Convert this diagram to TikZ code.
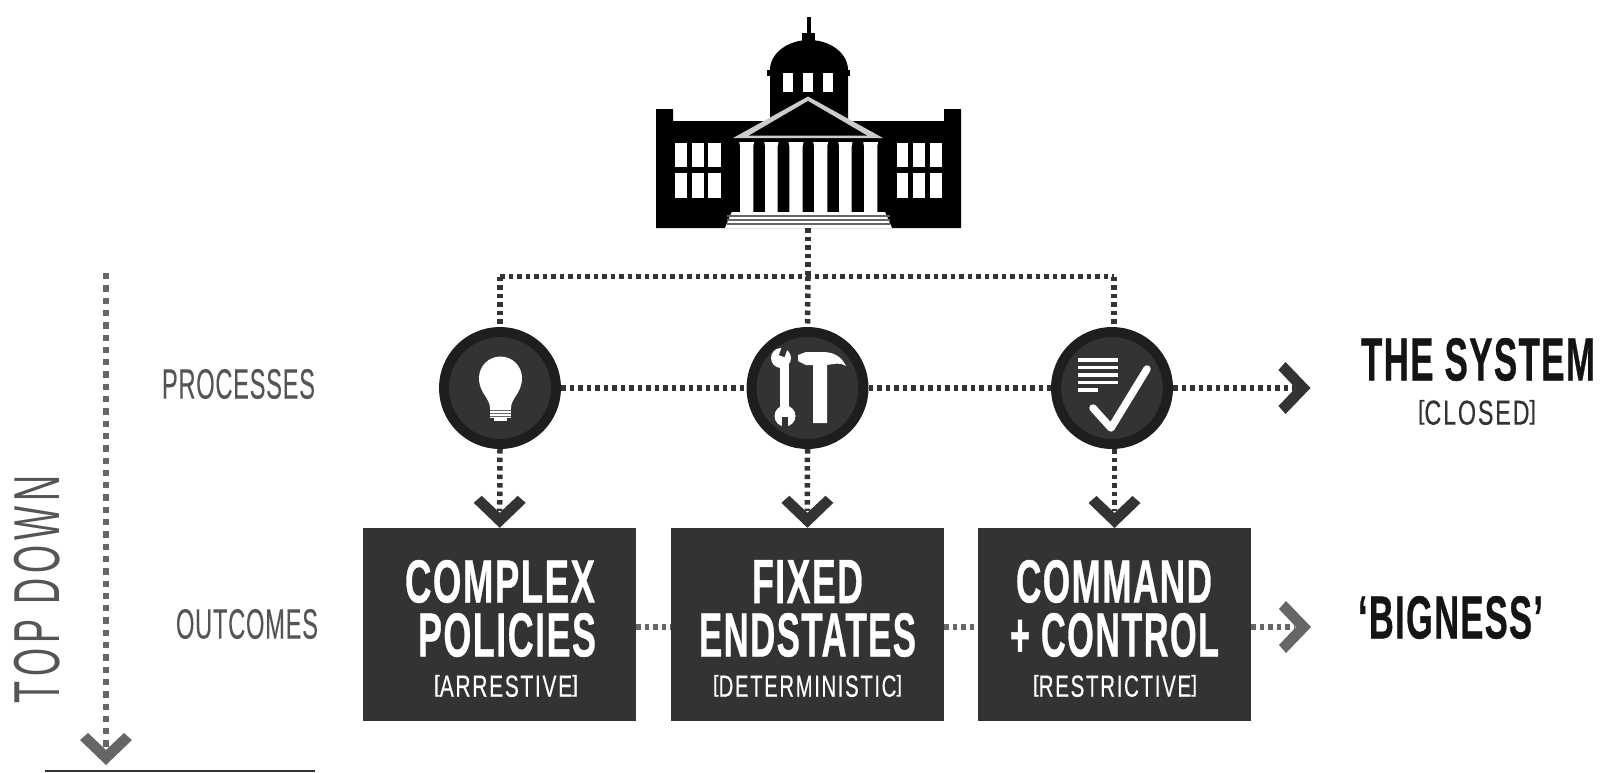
\documentclass[tikz,border=0pt]{standalone}
\usepackage{fontspec}
\usepackage{graphicx}
\setmainfont{Liberation Sans}
\newfontfamily\headfont[FakeBold=0.8,LetterSpace=4]{Liberation Sans Bold}
\newfontfamily\subfont[FakeBold=0.3,LetterSpace=8]{Liberation Sans}
\newfontfamily\labfont[FakeBold=0.15,LetterSpace=3]{Liberation Sans}
\newfontfamily\widefont[LetterSpace=14]{Liberation Sans}
\definecolor{panel}{HTML}{333333}
\definecolor{ring}{HTML}{1E1E1E}
\definecolor{ink}{HTML}{141414}
\definecolor{lab}{HTML}{555555}
\definecolor{midg}{HTML}{666666}
\newcommand{\fitH}[3]{\resizebox*{#1pt}{#2pt}{\headfont #3}}
\newcommand{\fitS}[3]{\resizebox*{#1pt}{#2pt}{\subfont #3}}
\newcommand{\fitL}[3]{\resizebox*{#1pt}{#2pt}{\labfont #3}}
\newcommand{\fitW}[3]{\resizebox*{#1pt}{#2pt}{\widefont #3}}
\newcommand{\lbk}{\raisebox{.16em}{\scalebox{1}[.76]{[}}}
\newcommand{\rbk}{\raisebox{.16em}{\scalebox{1}[.76]{]}}}
\newcommand{\chevron}[3]{\fill[#3,shift={(#1)},rotate=#2] (0,0)--(-26,-25)--(-18,-32)--(0,-15)--(18,-32)--(26,-25)--cycle;}
\tikzset{
  x=1pt,y=-1pt,
  dotsdark/.style={draw=panel,line width=5.5pt,dash pattern=on 4.5pt off 4pt},
  dotsgrey/.style={draw=midg,line width=5.5pt,dash pattern=on 4.5pt off 4pt},
  dotsleft/.style={draw=midg,line width=6.5pt,dash pattern=on 6.3pt off 6pt},
  disc/.style={circle,draw=ring,fill=panel,line width=10pt,minimum size=112pt,inner sep=0pt},
  panelbox/.style={rectangle,fill=panel,minimum width=273pt,minimum height=193pt,inner sep=0pt},
  txt/.style={inner sep=0pt,outer sep=0pt},
}
\begin{document}
\begin{tikzpicture}
\useasboundingbox (0,0) rectangle (1604,772);
\fill[white] (0,0) rectangle (1604,772);
%--- building
\fill[black] (656,228) -- (656,109) -- (673,109) -- (673,121) -- (944,121) -- (944,109) -- (961,109) -- (961,228) -- cycle;
\fill[black] (770,125) -- (770,70) arc[start angle=180,end angle=0,x radius=39,y radius=-30] -- (848,125) -- cycle;
\fill[black] (767,70) rectangle (850,76);
\fill[black] (802,41) rectangle (815,33);
\fill[black] (806.5,33) rectangle (810.5,17);
\foreach \a/\b in {783.3/793.3,803.3/813.3,823.3/833.3}
  \fill[white] (\a,73) rectangle (\b,92);
\foreach \a/\b in {675/687.3,691.7/704,708.3/720.7,896.7/908.3,913.3/925,930/942.3}{
  \fill[white] (\a,143.3) rectangle (\b,167.3);
  \fill[white] (\a,173.3) rectangle (\b,198.3);
}
\fill[white!80!black] (733,138) -- (808,96.5) -- (883,138) -- cycle;
\fill[black] (749,135.5) -- (808,101) -- (867,135.5) -- cycle;
\foreach \a/\b in {740/753.3,765/777.7,789.3/802.7,814/827.3,839/851.7,864/877.3}
  \fill[white] (\a-0.8,142) -- (\b+0.8,142) -- (\b,146) -- (\b,212) -- (\a,212) -- (\a,146) -- cycle;
\fill[white] (731.7,212) -- (885,212) -- (892,228) -- (725,228) -- cycle;
\foreach \y in {216,220,224} \fill[midg] (727,\y-0.7) rectangle (890,\y+0.7);
\coordinate (bld) at (808,228);
%--- discs
\node[disc] (c1) at (500,388) {};
\node[disc] (c2) at (807.5,388) {};
\node[disc] (c3) at (1112,388) {};
%--- boxes
\node[panelbox] (b1) at (499.7,624.5) {};
\node[panelbox] (b2) at (807.4,624.5) {};
\node[panelbox] (b3) at (1114.5,624.5) {};
%--- tree connectors
\coordinate (j0) at (808,276.5);
\coordinate (jl) at (500,276.5);
\coordinate (jr) at (1114,276.5);
\draw[dotsdark] (bld) -- (j0);
\draw[dotsdark] (jl) -- (jr);
\draw[dotsdark] (jl) -- (c1.north);
\draw[dotsdark] (j0) -- (c2.north);
\draw[dotsdark] (jr) -- (jr |- c3.north);
\draw[dotsdark] (c1.east) -- (c2.west);
\draw[dotsdark] (c2.east) -- (c3.west);
\coordinate (sysarrow) at (1310.5,388);
\draw[dotsdark] (c3.east) -- ([xshift=-16pt]sysarrow);
\coordinate (a1) at (b1.north);
\coordinate (a2) at (b2.north);
\coordinate (a3) at (1114.5,528);
\draw[dotsdark] (c1.south) -- ([yshift=17pt]a1);
\draw[dotsdark] (c2.south) -- ([yshift=17pt]a2);
\draw[dotsdark] (a3 |- c3.south) -- ([yshift=17pt]a3);
\chevron{a1}{0}{panel}
\chevron{a2}{0}{panel}
\chevron{a3}{0}{panel}
\chevron{sysarrow}{90}{panel}
\coordinate (bigarrow) at (1311,627);
\draw[dotsgrey] (b1.east |- bigarrow) -- (b2.west |- bigarrow);
\draw[dotsgrey] (b2.east |- bigarrow) -- (b3.west |- bigarrow);
\draw[dotsgrey] (b3.east |- bigarrow) -- ([xshift=-16pt]bigarrow);
\chevron{bigarrow}{90}{midg}
%--- left axis
\coordinate (axtop) at (106,273);
\coordinate (axtip) at (106,765);
\draw[dotsleft] (axtop) -- ([yshift=17pt]axtip);
\chevron{axtip}{0}{midg}
\coordinate (baseL) at (45,771);
\coordinate (baseR) at (315,771);
\draw[panel,line width=1.6pt] (baseL) -- (baseR);
%--- bulb
\fill[white] (490,408) .. controls (490,398) and (479,393) .. (479,378)
  arc[start angle=180,end angle=0,radius=21.5,y radius=-21.5]
  .. controls (522,393) and (511,398) .. (511,408) -- cycle;
\fill[white] (490,408) rectangle (511,418);
\fill[white] (494,418) rectangle (507,421);
\foreach \y in {409.5,412.5,415.5} \fill[midg] (490,\y) rectangle (511,\y+1);
%--- wrench
\fill[white] (780,364) -- (789,364) -- (789,408) -- (780,408) -- cycle;
\fill[white] (781,358) circle[radius=10];
\fill[white] (785,416) circle[radius=10.5];
\fill[panel,rotate around={-20:(781,358)}] (778,344) rectangle (784,356);
\fill[panel] (782,417) rectangle (788,430);
%--- hammer
\fill[white] (813,423) -- (813,365) -- (806,365) -- (798,361) -- (798,355) -- (806,352)
  -- (825,352) .. controls (838,353) and (843,360) .. (846,366)
  .. controls (840,362) and (834,364) .. (827,365) -- (827,423) -- cycle;
%--- doc + check
\foreach \y in {360,367.5,375,382.5} \fill[white] (1078,\y-1.7) rectangle (1117.5,\y+1.7);
\fill[white] (1078,390-1.7) rectangle (1097.5,390+1.7);
\draw[white,line width=7.5pt,line cap=round,line join=round] (1093,408) -- (1111,428) -- (1147,369);
%--- box text
\node[txt,white] (t11) at (500,581.5) {\fitH{190}{43}{COMPLEX}};
\node[txt,white] (t12) at (507,635) {\fitH{178}{44}{POLICIES}};
\node[txt,white] (t13) at (506,686) {\fitS{144}{22}{\lbk ARRESTIVE\rbk}};
\node[txt,white] (t21) at (807.5,581.5) {\fitH{111}{43}{FIXED}};
\node[txt,white] (t22) at (807.5,635) {\fitH{217}{44}{ENDSTATES}};
\node[txt,white] (t23) at (807.5,686) {\fitS{189}{22}{\lbk DETERMINISTIC\rbk}};
\node[txt,white] (t31) at (1114,581.5) {\fitH{196}{43}{COMMAND}};
\node[txt,white] (t32) at (1114.5,635) {\fitH{209}{44}{+ CONTROL}};
\node[txt,white] (t33) at (1115,686) {\fitS{164}{22}{\lbk RESTRICTIVE\rbk}};
%--- right text
\node[txt,ink] (sys) at (1478,359.5) {\fitH{234}{43}{THE SYSTEM}};
\node[txt,panel] (closed) at (1477,412.5) {\fitS{118}{25}{\lbk CLOSED\rbk}};
\node[txt,ink] (big) at (1450.5,617.5) {\fitH{185}{43}{‘BIGNESS’}};
%--- left text
\node[txt,lab] (proc) at (238.5,384) {\fitL{153}{30}{PROCESSES}};
\node[txt,lab] (outc) at (247,624) {\fitL{142}{30}{OUTCOMES}};
\node[txt,lab,rotate=90] (top) at (37,589) {\fitW{228}{46}{TOP DOWN}};
\end{tikzpicture}
\end{document}
